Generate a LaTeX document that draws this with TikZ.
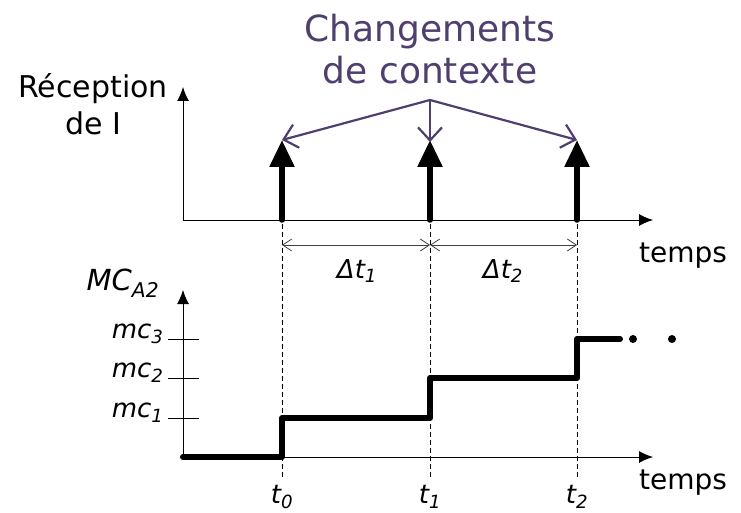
\documentclass[tikz,border=0pt]{standalone}
\usepackage{fontspec}
\setmainfont{DejaVu Sans}
\usepackage{xcolor}
\usetikzlibrary{arrows.meta,positioning}
\definecolor{ctxpurple}{HTML}{4F3F6E}

\begin{document}
\begin{tikzpicture}[
    x=1pt, y=-1pt,
    axis/.style={line width=1pt, -{Latex[length=14pt,width=12pt]}},
    impulse/.style={line width=5.5pt, line cap=round, -{Triangle[length=27pt,width=24pt]}},
    ctxarrow/.style={ctxpurple, line width=2.2pt, -{Straight Barb[length=13pt,width=24pt]}},
    guide/.style={line width=0.8pt, dash pattern=on 5pt off 3pt},
    span/.style={line width=0.8pt, black!75, {Straight Barb[length=9pt,width=12pt]}-{Straight Barb[length=9pt,width=12pt]}},
    level/.style={line width=6pt, line cap=round, line join=round},
    tick/.style={line width=0.8pt},
    lbl/.style={font=\fontsize{30}{37}\selectfont, align=center},
    ilbl/.style={font=\fontsize{26}{30}\selectfont\itshape}
]
    \useasboundingbox (0,0) rectangle (741,513);

    % Top axes
    \coordinate (O1) at (183,220);
    \coordinate (Y1) at (183,87);
    \coordinate (X1) at (653,220);
    \draw[axis] (O1) -- (Y1);
    \draw[axis] (O1) -- (X1);
    \node[lbl] (recep) at (93,104) {Réception\\de I};
    \node[lbl, font=\fontsize{28}{30}\selectfont] (temps1) at (683,256) {temps};

    % Bottom axes
    \coordinate (O2) at (183,457);
    \coordinate (Y2) at (183,290);
    \coordinate (X2) at (653,457);
    \draw[axis] (O2) -- (Y2);
    \draw[axis] (O2) -- (X2);
    \node[ilbl, font=\fontsize{29}{30}\selectfont\itshape] (mca) at (123,283) {MC\textsubscript{A2}};
    \node[lbl, font=\fontsize{28}{30}\selectfont] (temps2) at (683,483) {temps};

    % Levels
    \foreach \y/\n in {418/1,378/2,339/3} {
        \coordinate (tl\n) at (168,\y);
        \coordinate (tr\n) at (199,\y);
        \draw[tick] (tl\n) -- (tr\n);
        \node[ilbl, anchor=east] (mc\n) at (167,\y-5) {mc\textsubscript{\n}};
    }

    % Context switches
    \foreach \x/\n in {282/0,430/1,577/2} {
        \coordinate (base\n) at (\x,220);
        \coordinate (tip\n) at (\x,140);
        \coordinate (gtop\n) at (\x,224);
        \coordinate (gbot\n) at (\x,478);
        \coordinate (d\n) at (\x,245);
        \draw[guide] (gtop\n) -- (gbot\n);
        \draw[impulse] (base\n) -- (tip\n);
        \node[ilbl] (t\n) at (\x,497) {t\textsubscript{\n}};
    }

    % Intervals
    \draw[span] (d0) -- (d1);
    \draw[span] (d1) -- (d2);
    \node[ilbl] (dt1) at (357,271) {Δt\textsubscript{1}};
    \node[ilbl] (dt2) at (503,271) {Δt\textsubscript{2}};

    % Changements de contexte
    \node[lbl, ctxpurple, font=\fontsize{36}{42}\selectfont] (ctx) at (430,49) {Changements\\de contexte};
    \coordinate (apex) at (430,100);
    \draw[ctxarrow] (apex) -- (tip0);
    \draw[ctxarrow] (apex) -- ([yshift=-2pt]tip1);
    \draw[ctxarrow] (apex) -- (tip2);

    % MC_A2 over time
    \coordinate (s0) at (282,457);
    \coordinate (s1) at (430,418);
    \coordinate (s2) at (577,378);
    \coordinate (s3) at (620,339);
    \draw[level] (O2) -| (s1 -| s0) -| (s2 -| s1) -| (s3 -| s2) -- (s3);
    \fill (633,339) circle (4pt) (672,339) circle (4pt);
\end{tikzpicture}
\end{document}
